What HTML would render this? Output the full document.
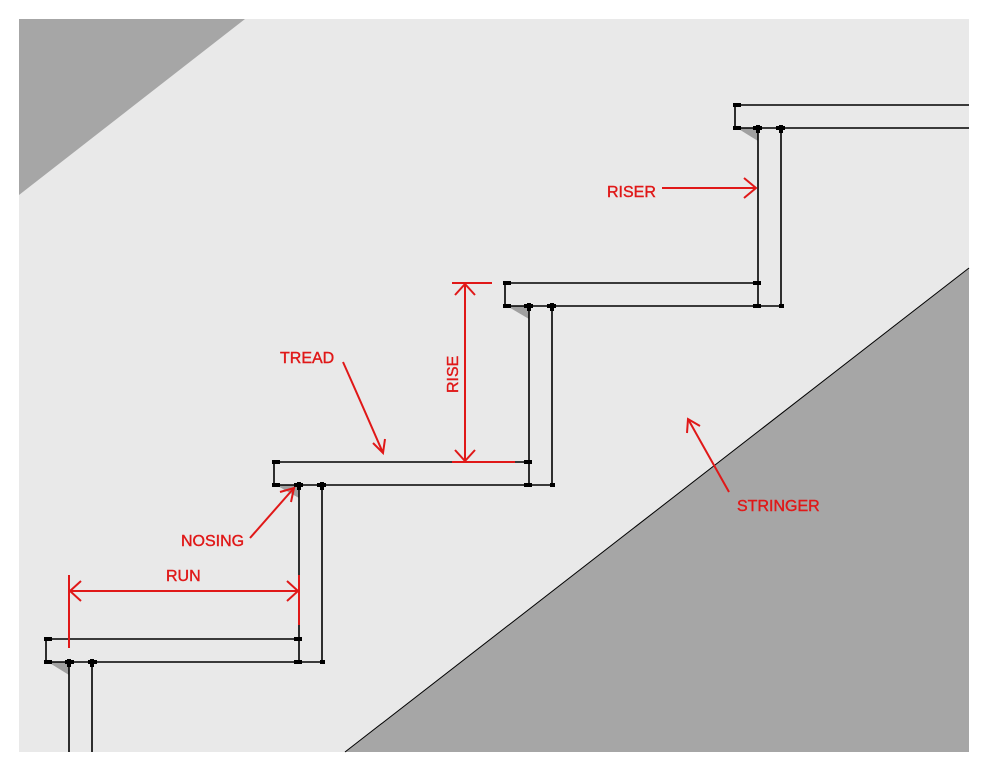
<!DOCTYPE html>
<html><head><style>
html,body{margin:0;padding:0;background:#fff;}
svg{display:block;}
text{font-family:"Liberation Sans",sans-serif;font-size:16px;fill:#e01818;stroke:#e01818;stroke-width:0.4;}
</style></head><body>
<svg width="990" height="772" viewBox="0 0 990 772" xmlns="http://www.w3.org/2000/svg">
<rect x="19" y="19" width="950" height="733" fill="#e9e9e9"/>
<polygon points="19,19 245,19 19,195" fill="#a6a6a6"/>
<polygon points="345,752 969,268 969,752" fill="#a6a6a6"/>
<line x1="345" y1="752" x2="969" y2="268" stroke="#000" stroke-width="1"/>
<g fill="#a0a0a0">
<polygon points="48,662 69,662 69,675"/>
<polygon points="276,485 299,485 299,498"/>
<polygon points="507,306 529,306 529,319"/>
<polygon points="737,128 758,128 758,141"/>
</g>
<g stroke="#000" stroke-width="1.6" fill="none">
<polyline points="299,639 46,639 46,662 322,662"/>
<line x1="69" y1="662" x2="69" y2="752"/><line x1="92" y1="662" x2="92" y2="752"/>
<line x1="299" y1="485" x2="299" y2="662"/><line x1="322" y1="485" x2="322" y2="662"/>
<polyline points="529,462 274,462 274,485 552,485"/>
<line x1="529" y1="306" x2="529" y2="485"/><line x1="552" y1="306" x2="552" y2="485"/>
<polyline points="758,283 505,283 505,306 781,306"/>
<line x1="758" y1="128" x2="758" y2="306"/><line x1="781" y1="128" x2="781" y2="306"/>
<polyline points="969,105 735,105 735,128 969,128"/>
</g>
<g fill="#000">
<rect x="44" y="637" width="8" height="4"/><rect x="44" y="660" width="8" height="4"/><rect x="65" y="660" width="9" height="4"/><rect x="67" y="659" width="4" height="8"/><rect x="88" y="660" width="9" height="4"/><rect x="90" y="659" width="4" height="8"/><rect x="294" y="637" width="8" height="4"/><rect x="294" y="660" width="8" height="4"/><rect x="320" y="660" width="5" height="4"/>
<rect x="272" y="460" width="8" height="4"/><rect x="272" y="483" width="8" height="4"/><rect x="294" y="483" width="9" height="4"/><rect x="297" y="482" width="4" height="8"/><rect x="317" y="483" width="9" height="4"/><rect x="320" y="482" width="4" height="8"/><rect x="524" y="460" width="8" height="4"/><rect x="524" y="483" width="8" height="4"/><rect x="550" y="483" width="5" height="4"/>
<rect x="503" y="281" width="8" height="4"/><rect x="503" y="304" width="8" height="4"/><rect x="524" y="304" width="9" height="4"/><rect x="527" y="303" width="4" height="8"/><rect x="547" y="304" width="9" height="4"/><rect x="550" y="303" width="4" height="8"/><rect x="753" y="281" width="8" height="4"/><rect x="753" y="304" width="8" height="4"/><rect x="779" y="304" width="5" height="4"/>
<rect x="733" y="103" width="8" height="4"/><rect x="733" y="126" width="8" height="4"/><rect x="753" y="126" width="9" height="4"/><rect x="756" y="125" width="4" height="8"/><rect x="776" y="126" width="9" height="4"/><rect x="779" y="125" width="4" height="8"/>
</g>
<g stroke="#e01818" stroke-width="2" fill="none">
<line x1="69" y1="575" x2="69" y2="648"/><line x1="299" y1="575" x2="299" y2="625"/>
<line x1="70" y1="591" x2="298" y2="591"/>
<polyline points="81,581 70,591 81,601"/><polyline points="287,581 298,591 287,601"/>
<line x1="452" y1="283" x2="492" y2="283"/><line x1="452" y1="462" x2="515" y2="462"/>
<line x1="465" y1="284" x2="465" y2="461"/>
<polyline points="455,295 465,284 475,295"/><polyline points="455,450 465,461 475,450"/>
<line x1="662" y1="188" x2="756" y2="188"/><polyline points="744,178 756,188 744,198"/>
<path d="M343,362 Q360,400 383,453"/><polyline points="373,443 383,453 385,439"/>
<line x1="250" y1="538" x2="294" y2="488"/><polyline points="280,492 294,488 291,502"/>
<line x1="729" y1="492" x2="688" y2="419"/><polyline points="687,433 688,419 700,426"/>
</g>
<text x="607" y="197">RISER</text>
<text x="280" y="363">TREAD</text>
<text x="181" y="546">NOSING</text>
<text x="166" y="581">RUN</text>
<text x="737" y="511">STRINGER</text>
<text transform="translate(458,393) rotate(-90)">RISE</text>
</svg>
</body></html>
